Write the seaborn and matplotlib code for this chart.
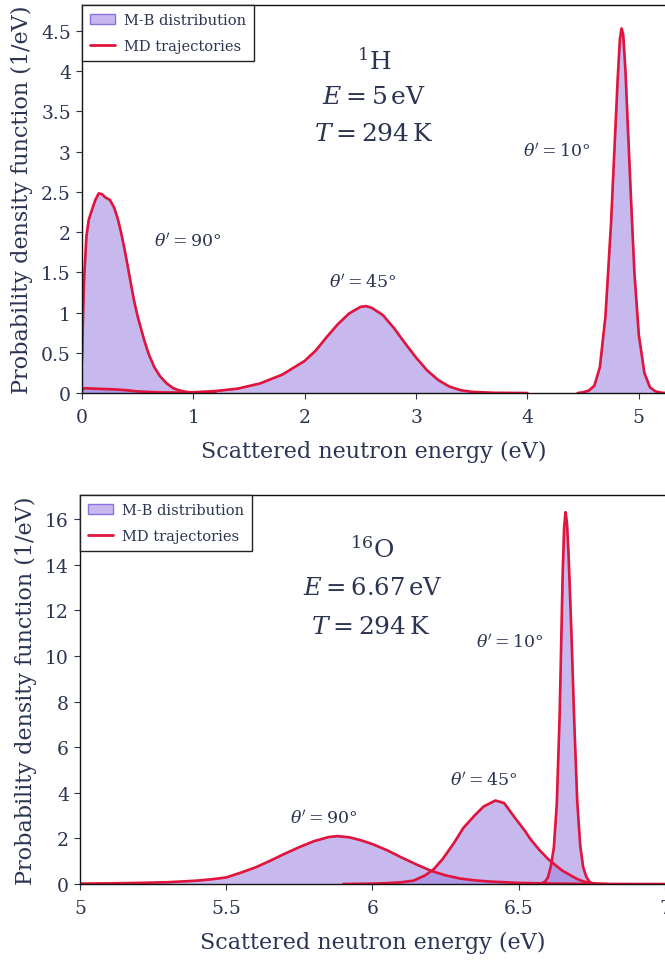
import numpy as np
import pandas as pd
import matplotlib
matplotlib.use("Agg")
import matplotlib.pyplot as plt
import seaborn as sns
from matplotlib.patches import Patch
from matplotlib.lines import Line2D

# ---------------- data ----------------
# Top panel: 1H, E = 5 eV
h_90_x = [0.0, 0.01, 0.02, 0.04, 0.06, 0.09, 0.12, 0.15, 0.18, 0.21, 0.25, 0.29, 0.32,
          0.35, 0.38, 0.41, 0.44, 0.47, 0.50, 0.53, 0.56, 0.60, 0.65, 0.70, 0.76,
          0.82, 0.88, 0.95, 1.05, 1.2]
h_90_y = [0.40, 1.00, 1.45, 1.95, 2.15, 2.28, 2.40, 2.48, 2.47, 2.43, 2.40, 2.30, 2.17,
          2.00, 1.80, 1.58, 1.35, 1.13, 0.95, 0.80, 0.65, 0.48, 0.32, 0.21, 0.12,
          0.06, 0.03, 0.012, 0.004, 0.0]
h_45_x = [0.0, 0.02, 0.1, 0.2, 0.3, 0.4, 0.5, 0.7, 0.9, 1.0, 1.2, 1.4, 1.6, 1.8, 2.0,
          2.1, 2.2, 2.3, 2.4, 2.5, 2.55, 2.6, 2.7, 2.8, 2.9, 3.0, 3.1, 3.2, 3.3,
          3.4, 3.5, 3.7, 4.0]
h_45_y = [0.04, 0.06, 0.055, 0.05, 0.045, 0.035, 0.02, 0.008, 0.006, 0.01, 0.025, 0.055,
          0.12, 0.23, 0.40, 0.53, 0.70, 0.86, 0.99, 1.07, 1.08, 1.06, 0.97, 0.81, 0.62,
          0.44, 0.28, 0.16, 0.08, 0.035, 0.015, 0.003, 0.0]
h_10_x = [4.45, 4.5, 4.55, 4.6, 4.65, 4.7, 4.75, 4.78, 4.81, 4.83, 4.845, 4.86, 4.88,
          4.9, 4.93, 4.96, 5.0, 5.05, 5.1, 5.15, 5.2, 5.25]
h_10_y = [0.0, 0.01, 0.03, 0.09, 0.32, 0.95, 2.10, 3.00, 3.90, 4.40, 4.53, 4.45, 4.00,
          3.35, 2.40, 1.50, 0.72, 0.25, 0.07, 0.02, 0.005, 0.0]

# Bottom panel: 16O, E = 6.67 eV
o_90_x = [5.0, 5.1, 5.2, 5.3, 5.4, 5.45, 5.5, 5.55, 5.6, 5.65, 5.7, 5.75, 5.8, 5.85,
          5.88, 5.92, 5.96, 6.0, 6.05, 6.1, 6.15, 6.2, 6.25, 6.3, 6.35, 6.4, 6.5,
          6.6, 6.7, 6.8, 7.0]
o_90_y = [0.02, 0.03, 0.05, 0.08, 0.15, 0.21, 0.29, 0.50, 0.73, 1.02, 1.33, 1.62, 1.88,
          2.06, 2.10, 2.05, 1.92, 1.75, 1.48, 1.16, 0.86, 0.58, 0.38, 0.24, 0.16, 0.11,
          0.05, 0.025, 0.01, 0.004, 0.0]
o_45_x = [5.9, 6.0, 6.05, 6.1, 6.14, 6.18, 6.21, 6.24, 6.28, 6.31, 6.35, 6.38, 6.42,
          6.45, 6.49, 6.52, 6.54, 6.57, 6.60, 6.63, 6.65, 6.68, 6.70, 6.72, 6.74,
          6.77, 6.8]
o_45_y = [0.0, 0.02, 0.04, 0.08, 0.15, 0.38, 0.66, 1.10, 1.83, 2.45, 3.02, 3.40, 3.66,
          3.55, 2.85, 2.35, 1.97, 1.50, 1.10, 0.78, 0.58, 0.36, 0.22, 0.12, 0.05,
          0.015, 0.0]
o_10_x = [6.57, 6.59, 6.60, 6.61, 6.62, 6.63, 6.64, 6.645, 6.65, 6.655, 6.66, 6.665,
          6.67, 6.675, 6.68, 6.69, 6.70, 6.71, 6.72, 6.73, 6.74, 6.75, 6.77]
o_10_y = [0.0, 0.1, 0.3, 0.8, 1.6, 3.5, 7.5, 10.5, 13.5, 15.6, 16.3, 15.8, 14.5, 12.8,
          11.0, 7.0, 3.6, 1.7, 0.75, 0.35, 0.12, 0.04, 0.0]

top_ticks = [0, 1, 2, 3, 4, 5]
top_yticks = [0, 0.5, 1, 1.5, 2, 2.5, 3, 3.5, 4, 4.5]
bot_ticks = [5, 5.5, 6, 6.5, 7]
bot_yticks = [0, 2, 4, 6, 8, 10, 12, 14, 16]

# ---------------- style ----------------
sns.set_theme(style="ticks")
plt.rcParams["font.family"] = ["DejaVu Serif"]
plt.rcParams["mathtext.fontset"] = "dejavuserif"
TXT = "#2b3552"
FILL = "#9a80e0"
RED = "#e0143c"
plt.rcParams.update({
    "text.color": TXT, "axes.labelcolor": TXT,
    "xtick.color": TXT, "ytick.color": TXT,
    "xtick.labelcolor": TXT, "ytick.labelcolor": TXT,
})

fig = plt.figure(figsize=(6.65, 9.62), dpi=100)
ax1 = fig.add_axes([0.1233, 0.5904, 0.8767, 0.4033])
ax2 = fig.add_axes([0.1203, 0.0800, 0.8797, 0.4044])


def draw(ax, curves):
    for cx, cy in curves:
        df = pd.DataFrame({"energy": cx, "pdf": cy})
        ax.fill_between(df["energy"], 0, df["pdf"], color=FILL, alpha=0.55,
                        linewidth=0.8, edgecolor="#7a62d8")
        sns.lineplot(data=df, x="energy", y="pdf", ax=ax, color=RED, lw=1.9,
                     sort=False, estimator=None)


draw(ax1, [(h_90_x, h_90_y), (h_45_x, h_45_y), (h_10_x, h_10_y)])
draw(ax2, [(o_90_x, o_90_y), (o_45_x, o_45_y), (o_10_x, o_10_y)])

ax1.set_xlim(0, 5.235)
ax1.set_ylim(0, 4.82)
ax2.set_xlim(5, 7)
ax2.set_ylim(0, 17.05)

for ax, xt, yt in [(ax1, top_ticks, top_yticks), (ax2, bot_ticks, bot_yticks)]:
    ax.set_xticks(xt)
    ax.set_yticks(yt)
    ax.set_xticklabels([f"{v:g}" for v in xt])
    ax.set_yticklabels([f"{v:g}" for v in yt])
    ax.tick_params(labelsize=13.5, length=4, width=0.8, direction="out")
    ax.tick_params(axis="x", pad=7)
    ax.tick_params(axis="y", pad=4)
    ax.set_xlabel("Scattered neutron energy (eV)", fontsize=16, labelpad=10)
    ax.set_ylabel("Probability density function (1/eV)", fontsize=16, labelpad=6)
    ax.spines["right"].set_visible(False)
    for s in ["top", "left", "bottom"]:
        ax.spines[s].set_color("#111111")
        ax.spines[s].set_linewidth(1.0)
    handles = [Patch(facecolor="#c7b9ef", edgecolor="#8a70e0", linewidth=1.0),
               Line2D([0], [0], color=RED, lw=2.0)]
    leg = ax.legend(handles, ["M-B distribution", "MD trajectories"], loc="upper left",
                    fontsize=10.5, frameon=True, fancybox=False, framealpha=1,
                    edgecolor="#222222", borderaxespad=0.0, handlelength=1.7,
                    borderpad=0.55, labelspacing=0.8, handletextpad=0.6)
    leg.get_frame().set_linewidth(1.0)

# top annotations
ax1.text(2.62, 4.13, r"$^{1}$H", ha="center", va="center", fontsize=18)
ax1.text(2.62, 3.68, r"$E = 5\,\mathrm{eV}$", ha="center", va="center", fontsize=18)
ax1.text(2.62, 3.22, r"$T = 294\,\mathrm{K}$", ha="center", va="center", fontsize=18)
ax1.text(0.95, 1.89, r"$\theta' = 90°$", ha="center", va="center", fontsize=12.5)
ax1.text(2.52, 1.38, r"$\theta' = 45°$", ha="center", va="center", fontsize=12.5)
ax1.text(4.26, 3.0, r"$\theta' = 10°$", ha="center", va="center", fontsize=12.5)

# bottom annotations
ax2.text(6.0, 14.7, r"$^{16}$O", ha="center", va="center", fontsize=18)
ax2.text(6.0, 13.0, r"$E = 6.67\,\mathrm{eV}$", ha="center", va="center", fontsize=17.5)
ax2.text(5.995, 11.3, r"$T = 294\,\mathrm{K}$", ha="center", va="center", fontsize=18)
ax2.text(5.835, 2.9, r"$\theta' = 90°$", ha="center", va="center", fontsize=12.5)
ax2.text(6.38, 4.56, r"$\theta' = 45°$", ha="center", va="center", fontsize=12.5)
ax2.text(6.47, 10.6, r"$\theta' = 10°$", ha="center", va="center", fontsize=12.5)

fig.savefig("out.png", dpi=100)
